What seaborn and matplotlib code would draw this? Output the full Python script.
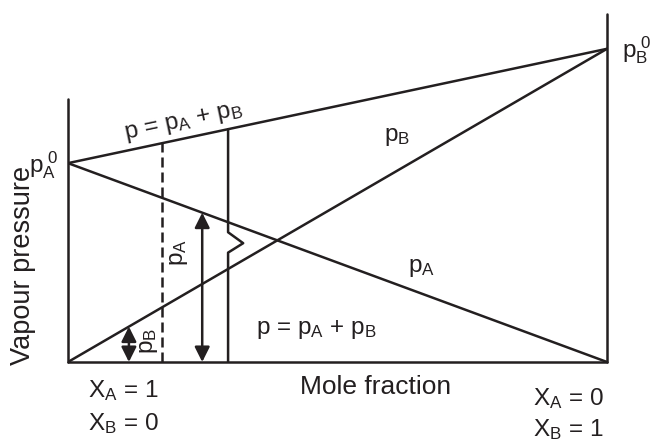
import numpy as np
import pandas as pd
import seaborn as sns
import matplotlib.pyplot as plt

sns.set_style("white")
plt.rcParams['font.family'] = ['Liberation Sans', 'DejaVu Sans']
plt.rcParams['mathtext.fontset'] = 'custom'
plt.rcParams['mathtext.rm'] = 'Liberation Sans'
plt.rcParams['mathtext.it'] = 'Liberation Sans'

# mole fraction of B (0 = pure A, 1 = pure B)
x_mole = [0.0, 1.0]
p_A = [40.0, 0.0]          # partial pressure of A
p_B = [0.0, 63.0]          # partial pressure of B
p_total = [40.0, 63.0]     # p = pA + pB
left_axis_top = 53.0
right_axis_top = 70.0

x_dashed = 0.174
x_solid = 0.297
x_arrow_A = 0.249
x_arrow_B = 0.113
zig_x = [x_solid, x_solid, 0.325, x_solid, x_solid]
zig_y = [40 + 23 * x_solid, 26.1, 23.9, 22.0, 0.0]

df = pd.DataFrame({'x': x_mole * 3,
                   'p': p_A + p_B + p_total,
                   'line': ['pA'] * 2 + ['pB'] * 2 + ['p'] * 2})

fig = plt.figure(figsize=(6.51, 4.42), dpi=100)
ax = fig.add_axes([68 / 651, 80 / 442, 539 / 651, 348 / 442])
lw = 1.8
lc = '#231f20'
sns.lineplot(data=df, x='x', y='p', units='line', estimator=None,
             color=lc, lw=lw, ax=ax, legend=False)

# axes drawn as lines
ax.plot([0, 0], [0, left_axis_top], color=lc, lw=lw, clip_on=False)
ax.plot([1, 1], [0, right_axis_top], color=lc, lw=lw, clip_on=False)
ax.plot([0, 1], [0, 0], color=lc, lw=lw, clip_on=False)

# dashed and broken vertical lines
ax.plot([x_dashed, x_dashed], [0, 40 + 23 * x_dashed], color=lc,
        lw=lw, dashes=(4, 2))
ax.plot(zig_x, zig_y, color=lc, lw=lw)

# double arrows
arr = dict(arrowstyle='<|-|>,head_length=0.6,head_width=0.3', color=lc,
           lw=lw, mutation_scale=15, shrinkA=0, shrinkB=0)
ax.annotate('', xy=(x_arrow_A, 40 * (1 - x_arrow_A)), xytext=(x_arrow_A, 0),
            arrowprops=arr)
ax.annotate('', xy=(x_arrow_B, 63 * x_arrow_B), xytext=(x_arrow_B, 0),
            arrowprops=arr)

ax.set_xlim(0, 1)
ax.set_ylim(0, 70)
ax.set_axis_off()

fs = 17.5
tc = '#231f20'
sumtxt = r'p = p$_\mathregular{A}$ + p$_\mathregular{B}$'
ax.text(0.215, 48.2, sumtxt, fontsize=fs, color=tc,
        rotation=12, rotation_mode='anchor', ha='center', va='center')
ax.text(0.61, 45.2, r'p$_\mathregular{B}$', fontsize=fs, color=tc, ha='center', va='center')
ax.text(0.655, 18.9, r'p$_\mathregular{A}$', fontsize=fs, color=tc, ha='center', va='center')
ax.text(0.46, 6.6, sumtxt, fontsize=fs, color=tc, ha='center', va='center')
ax.text(0.206, 22, r'p$_\mathregular{A}$', fontsize=fs, color=tc, rotation=90,
        ha='center', va='center')
ax.text(0.15, 4.2, r'p$_\mathregular{B}$', fontsize=fs, color=tc, rotation=90,
        ha='center', va='center')
ax.text(-0.045, 39.6, r'p$_\mathregular{A}^{\ \mathregular{0}}$', fontsize=fs, color=tc,
        ha='center', va='center')
ax.text(1.054, 62.7, r'p$_\mathregular{B}^{\ \mathregular{0}}$', fontsize=fs, color=tc,
        ha='center', va='center')
ax.text(0.57, -5.0, 'Mole fraction', fontsize=19, color=tc, ha='center', va='center')
ax.text(-0.083, 19.5, 'Vapour pressure', fontsize=19.5, color=tc, rotation=90,
        ha='center', va='center')
ax.text(0.037, -7.0, r'X$_\mathregular{A}$ = 1', fontsize=fs, color=tc, ha='left', va='baseline')
ax.text(0.037, -13.7, r'X$_\mathregular{B}$ = 0', fontsize=fs, color=tc, ha='left', va='baseline')
ax.text(0.863, -8.6, r'X$_\mathregular{A}$ = 0', fontsize=fs, color=tc, ha='left', va='baseline')
ax.text(0.863, -15.0, r'X$_\mathregular{B}$ = 1', fontsize=fs, color=tc, ha='left', va='baseline')

fig.savefig('out.png', dpi=100)
